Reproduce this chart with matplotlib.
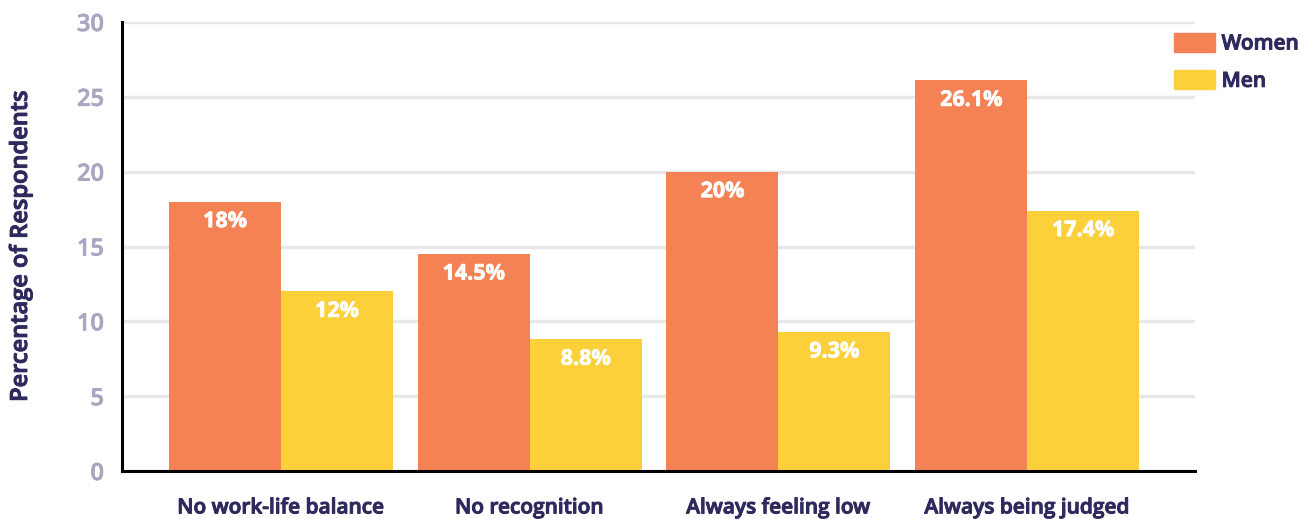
import numpy as np
import matplotlib
matplotlib.use("Agg")
import matplotlib.pyplot as plt
import matplotlib.patheffects as pe
from matplotlib.patches import Patch
from matplotlib import font_manager

# Survey data
categories = ["No work-life balance", "No recognition", "Always feeling low", "Always being judged"]
women = [18, 14.5, 20, 26.1]
men = [12, 8.8, 9.3, 17.4]
women_labels = ["18%", "14.5%", "20%", "26.1%"]
men_labels = ["12%", "8.8%", "9.3%", "17.4%"]

WOMEN_COLOR = "#F58254"
MEN_COLOR = "#FCD03A"
NAVY = "#2E2A5E"
TICK_GRAY = "#A9A6C2"

plt.rcParams["font.family"] = ["Open Sans", "DejaVu Sans"]


def open_sans(filename, size, fallback_weight):
    # pick the static Open Sans file directly so the variable font isn't used
    for f in font_manager.fontManager.ttflist:
        if f.fname.endswith(filename):
            return font_manager.FontProperties(fname=f.fname, size=size)
    return font_manager.FontProperties(family="Open Sans", weight=fallback_weight, size=size)


def thicken(color, lw=0.7):
    return [pe.withStroke(linewidth=lw, foreground=color)]


fig = plt.figure(figsize=(13.03, 5.19), dpi=100)
ax = fig.add_axes([122 / 1303, 48 / 519, (1195 - 122) / 1303, (471 - 22) / 519])

x = np.arange(len(categories))
w = 0.45
b1 = ax.bar(x - w / 2, women, w, color=WOMEN_COLOR, zorder=3)
b2 = ax.bar(x + w / 2, men, w, color=MEN_COLOR, zorder=3)

bar_font = open_sans("OpenSans-Bold.ttf", 15.5, "bold")
for bars, labels in ((b1, women_labels), (b2, men_labels)):
    for rect, lab in zip(bars, labels):
        ax.annotate(lab, (rect.get_x() + rect.get_width() / 2, rect.get_height()),
                    xytext=(0, -20), textcoords="offset pixels",
                    ha="center", va="center", color="white",
                    fontproperties=bar_font, zorder=4,
                    path_effects=thicken("white", 0.5))

ax.set_xlim(-0.639, 3.675)
ax.set_ylim(0, 30)
ax.set_yticks(range(0, 31, 5))
ax.yaxis.grid(True, color="#E8E8E8", linewidth=2.5, zorder=0)
ax.set_axisbelow(True)

for side in ("top", "right"):
    ax.spines[side].set_visible(False)
for side in ("left", "bottom"):
    ax.spines[side].set_linewidth(2.2)
    ax.spines[side].set_color("black")
    ax.spines[side].set_zorder(5)

ax.set_xticks(x)
ax.set_xticklabels(categories, color=NAVY,
                   fontproperties=open_sans("OpenSans-Semibold.ttf", 15, "semibold"))
for t in ax.get_xticklabels():
    t.set_path_effects(thicken(NAVY))
ax.tick_params(axis="x", length=0, pad=19)
ax.tick_params(axis="y", length=0, pad=13, labelcolor=TICK_GRAY)
tick_font = open_sans("OpenSans-Semibold.ttf", 17, "semibold")
for t in ax.get_yticklabels():
    t.set_fontproperties(tick_font)
    t.set_path_effects(thicken(TICK_GRAY, 0.5))

ax.set_ylabel("Percentage of Respondents", color=NAVY,
              fontproperties=open_sans("OpenSans-Semibold.ttf", 17, "semibold"),
              path_effects=thicken(NAVY))
ax.yaxis.set_label_coords(-0.083, 0.5)

handles = [Patch(color=WOMEN_COLOR, label="Women"), Patch(color=MEN_COLOR, label="Men")]
leg = fig.legend(handles=handles, loc="upper left",
                 bbox_to_anchor=(1157 / 1303, 1 - 16 / 519),
                 frameon=False, prop=open_sans("OpenSans-Semibold.ttf", 15, "semibold"),
                 handlelength=2.0, handleheight=1.05,
                 labelspacing=0.75, handletextpad=0.3, borderpad=0.3)
for t in leg.get_texts():
    t.set_color(NAVY)
    t.set_path_effects(thicken(NAVY))

fig.savefig("out.png", dpi=100)
